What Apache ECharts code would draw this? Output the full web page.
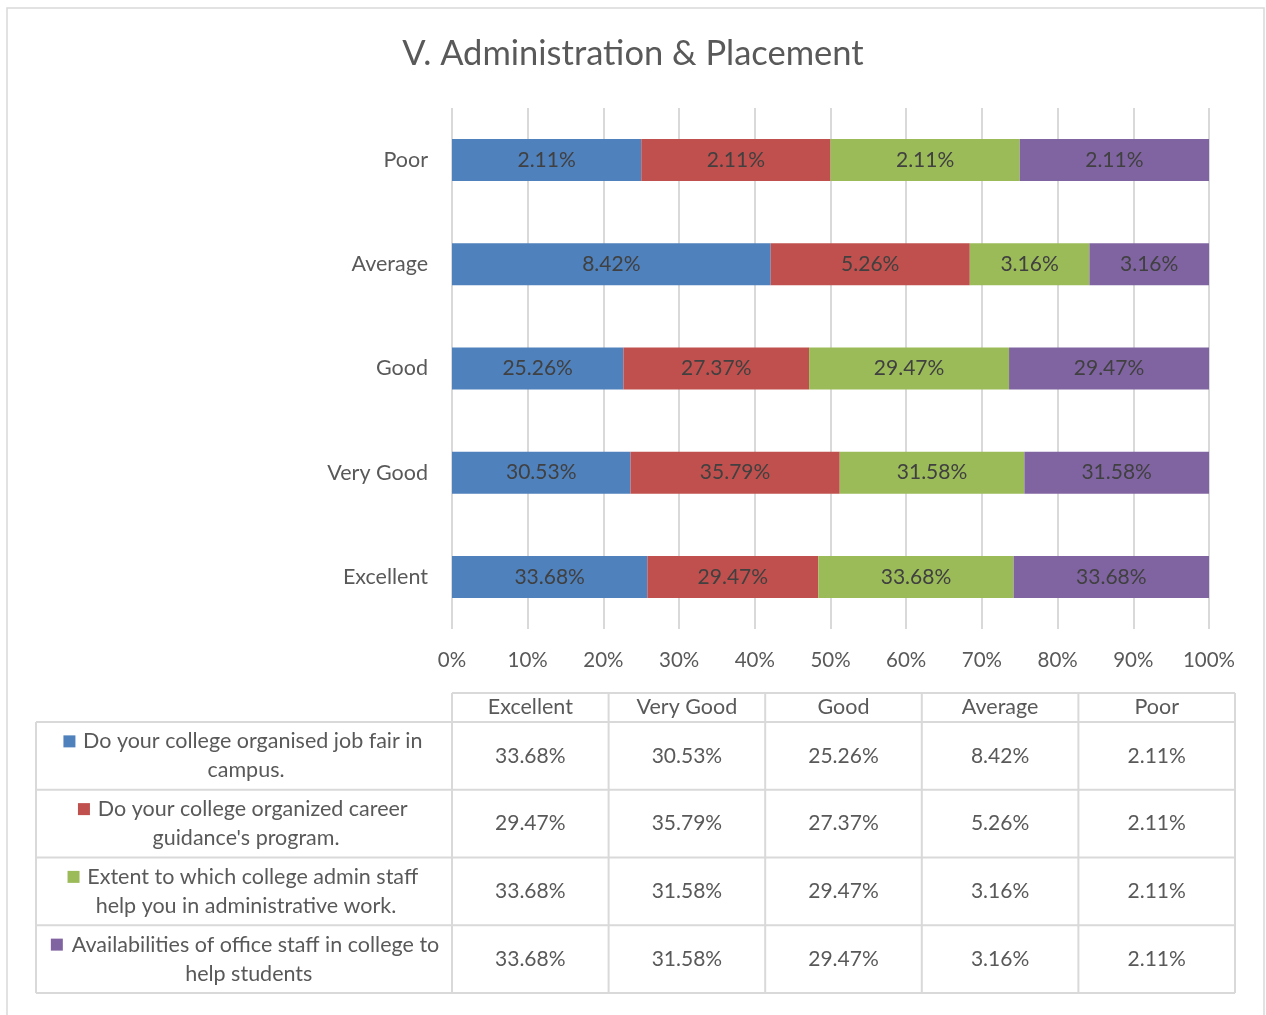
<!DOCTYPE html>
<html>
<head>
<meta charset="utf-8">
<script src="https://cdn.jsdelivr.net/npm/echarts@6/dist/echarts.min.js"></script>
<style>
  html, body { margin: 0; padding: 0; background: #fff; }
  #main { width: 1266px; height: 1015px; }
</style>
</head>
<body>
<div id="main"></div>
<script>
const title = 'V. Administration & Placement'
const categories = ['Excellent', 'Very Good', 'Good', 'Average', 'Poor']
const seriesNames = [
  'Do your college organised job fair in campus.',
  "Do your college organized career guidance's program.",
  'Extent to which college admin staff help you in administrative work.',
  'Availabilities of office staff in college to help students'
]
const jobFair = [33.68, 30.53, 25.26, 8.42, 2.11]
const careerGuidance = [29.47, 35.79, 27.37, 5.26, 2.11]
const adminStaff = [33.68, 31.58, 29.47, 3.16, 2.11]
const officeStaff = [33.68, 31.58, 29.47, 3.16, 2.11]
const colors = ['#4F81BD', '#C0504D', '#9BBB59', '#8064A2']

const rawSeries = [jobFair, careerGuidance, adminStaff, officeStaff]
const FONT = 'Lato'
const textColor = '#595959'
const gridColor = '#d9d9d9'

// totals per category, for the 100% stack
const totals = categories.map((c, i) => rawSeries.reduce((s, arr) => s + arr[i], 0))
const fmt = v => v.toFixed(2) + '%'

const series = rawSeries.map((arr, k) => ({
  name: seriesNames[k],
  type: 'bar',
  stack: 'all',
  barWidth: 42,
  data: arr.map((v, i) => ({ value: v / totals[i] * 100, raw: v })),
  itemStyle: { color: colors[k] },
  label: {
    show: true,
    position: 'inside',
    color: '#404040',
    fontFamily: FONT,
    fontSize: 21,
    formatter: p => fmt(p.data.raw)
  },
  emphasis: { disabled: true }
}))

// data table under the chart
const tbl = { x0: 36, x1: 452, right: 1235, headTop: 693, headBottom: 722, bottom: 993 }
const colW = (tbl.right - tbl.x1) / categories.length
const rowH = (tbl.bottom - tbl.headBottom) / seriesNames.length
const lineStyle = { stroke: gridColor, lineWidth: 2 }
const graphics = []
const line = (x1, y1, x2, y2) => graphics.push({ type: 'line', shape: { x1, y1, x2, y2 }, style: lineStyle, silent: true })

// outer frame
graphics.push({ type: 'rect', shape: { x: 7, y: 8, width: 1257, height: 1030 }, style: { fill: null, stroke: gridColor, lineWidth: 1.5 }, silent: true })

line(tbl.x1, tbl.headTop, tbl.right, tbl.headTop)
for (let r = 0; r <= seriesNames.length; r++) {
  const y = tbl.headBottom + r * rowH
  line(tbl.x0, y, tbl.right, y)
}
line(tbl.x0, tbl.headBottom, tbl.x0, tbl.bottom)
for (let c = 0; c <= categories.length; c++) {
  const x = tbl.x1 + c * colW
  line(x, tbl.headTop, x, tbl.bottom)
}
categories.forEach((cat, c) => {
  graphics.push({
    type: 'text', x: tbl.x1 + (c + 0.5) * colW, y: (tbl.headTop + tbl.headBottom) / 2,
    style: { text: cat, fill: textColor, font: `21.5px ${FONT}`, align: 'center', verticalAlign: 'middle' }
  })
})
seriesNames.forEach((name, r) => {
  const yc = tbl.headBottom + (r + 0.5) * rowH
  graphics.push({
    type: 'text', x: (tbl.x0 + tbl.x1) / 2 + 2, y: yc,
    style: {
      text: '{sq|}{gap|}' + name,
      width: 381,
      overflow: 'break',
      lineHeight: 29,
      fill: textColor, font: `21.5px ${FONT}`, align: 'center', verticalAlign: 'middle',
      rich: {
        sq: { width: 12, height: 12, backgroundColor: colors[r], verticalAlign: 'middle' },
        gap: { width: 7, height: 12 }
      }
    }
  })
  categories.forEach((cat, c) => {
    graphics.push({
      type: 'text', x: tbl.x1 + (c + 0.5) * colW, y: yc,
      style: { text: fmt(rawSeries[r][c]), fill: textColor, font: `21px ${FONT}`, align: 'center', verticalAlign: 'middle' }
    })
  })
})

const chart = echarts.init(document.getElementById('main'))
chart.setOption({
  animation: false,
  backgroundColor: '#fff',
  title: {
    text: title,
    left: 'center',
    top: 31,
    textStyle: { fontFamily: FONT, fontSize: 34.5, fontWeight: 'normal', color: textColor }
  },
  grid: { left: 452, right: 57, top: 108, height: 521, containLabel: false },
  xAxis: {
    type: 'value',
    min: 0,
    max: 100,
    interval: 10,
    axisLine: { show: false },
    axisTick: { show: false },
    splitLine: { lineStyle: { color: gridColor, width: 2 } },
    axisLabel: { color: textColor, fontFamily: FONT, fontSize: 20.5, margin: 21, formatter: v => v + '%' }
  },
  yAxis: {
    type: 'category',
    data: categories,
    axisLine: { show: false },
    axisTick: { show: false },
    axisLabel: { color: textColor, fontFamily: FONT, fontSize: 21.5, margin: 24 }
  },
  series: series,
  graphic: graphics
})
</script>
</body>
</html>
